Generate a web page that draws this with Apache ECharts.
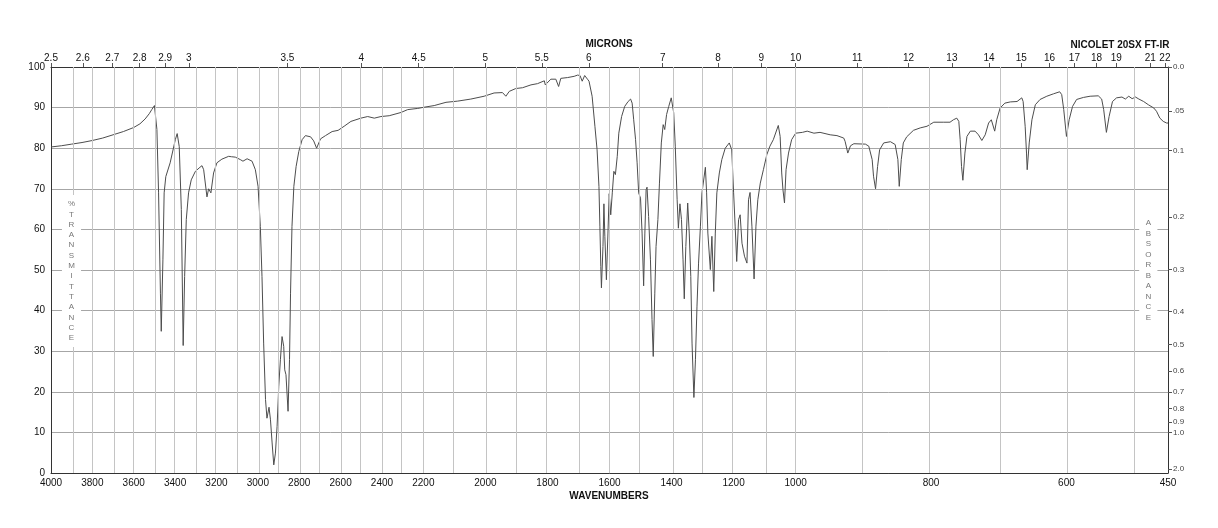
<!DOCTYPE html>
<html>
<head>
<meta charset="utf-8">
<script src="https://cdn.jsdelivr.net/npm/echarts@6/dist/echarts.min.js"></script>
<style>
html,body{margin:0;padding:0;background:#fff;}
#chart{width:1218px;height:528px;}
</style>
</head>
<body>
<div id="chart"></div>
<script>
// ---- data ----
const wavenumbers = [4000,3950,3900,3850,3800,3750,3700,3650,3600,3570,3545,3525,3513,3500,3488,3480,3471,3467,3459,3453,3445,3424,3399,3390,3380,3370,3361,3354,3346,3335,3322,3302,3280,3270,3262,3246,3238,3227,3214,3198,3174,3141,3128,3109,3085,3072,3052,3028,3012,2999,2988,2980,2972,2963,2956,2946,2939,2931,2923,2915,2907,2899,2891,2883,2875,2870,2864,2854,2847,2842,2835,2826,2815,2802,2786,2770,2745,2730,2716,2697,2673,2641,2612,2583,2550,2502,2469,2437,2405,2365,2308,2276,2227,2197,2165,2127,2089,2047,2004,1972,1945,1934,1923,1902,1880,1853,1832,1810,1807,1789,1773,1764,1757,1735,1714,1703,1695,1688,1680,1671,1666,1656,1647,1640,1634,1631,1628,1626,1621,1618,1615,1610,1605,1601,1596,1591,1586,1581,1575,1570,1561,1551,1540,1532,1527,1522,1516,1511,1506,1500,1495,1490,1486,1482,1479,1474,1468,1463,1459,1454,1450,1444,1439,1433,1427,1422,1416,1409,1401,1393,1388,1382,1378,1373,1368,1363,1359,1354,1348,1343,1338,1334,1328,1323,1318,1313,1307,1302,1291,1287,1283,1275,1270,1264,1259,1254,1246,1238,1227,1214,1206,1200,1195,1190,1184,1179,1173,1165,1157,1152,1147,1141,1134,1128,1122,1114,1104,1093,1083,1072,1056,1050,1045,1041,1036,1031,1023,1013,1000,990,983,973,964,949,939,929,927,923,919,914,897,892,887,885,882,879,876,870,860,853,849,847,844,841,836,826,816,806,796,782,772,767,762,759,757,755,753,750,747,742,735,730,725,720,715,711,709,706,703,698,691,683,673,666,664,661,659,658,655,651,646,639,629,619,610,607,604,600,596,591,585,575,565,553,548,545,541,537,532,526,518,513,508,503,498,493,486,479,471,467,462,457,452,450];
const transmittance = [80.3,80.6,81.0,81.4,81.9,82.5,83.3,84.1,85.1,86.0,87.2,88.5,89.5,90.5,84.6,69,44.3,34.9,52.5,69,73,76.4,82.1,83.6,80.4,64.9,31.4,48.4,62.4,69,72.2,74.3,75.3,75.7,74.7,68,70,69,73.9,76.4,77.3,78,77.9,77.8,77.2,76.8,77.4,76.8,74.7,70.6,60.7,48.4,32,18.1,13.5,16.2,13.1,7.4,2.0,4.9,11.5,21.3,27.9,33.6,31.2,25.4,24.2,15.2,27.9,44.3,60.7,70.6,75.5,79.2,82.1,83.1,82.8,81.8,80.0,82.3,83.1,84.1,84.4,85.4,86.6,87.4,87.8,87.4,87.8,88.0,88.8,89.5,89.8,90.1,90.5,91.3,91.6,92.1,92.8,93.6,93.7,92.8,94.0,94.7,94.9,95.6,95.9,96.6,95.6,97.0,97.0,95.2,97.2,97.4,97.7,98.0,97.9,96.5,97.9,97.0,96.5,92.8,85.4,79.6,70.6,60.8,50.9,45.6,55.8,66.3,58.3,47.6,59.1,68.8,63.6,69,74.3,73.5,78,83.7,87.8,90.3,91.5,92.1,91.1,87.0,82.1,76.4,69,67.7,59.1,46.1,59.1,69.8,70.4,63.2,52.5,37.8,28.7,44.3,55.8,62.4,71.4,81.3,85.8,84.6,88.3,90.3,92.4,88.7,80.5,67.3,60.3,66.3,62.4,52.5,42.9,55.8,66.5,59.1,48.4,32.0,18.6,27.9,41.1,51.7,60.8,69,75.3,69,59.1,50.1,58.3,44.7,59.1,69,73.9,77.2,80.0,81.3,79.6,69,60.8,52.1,62.4,63.6,56.6,53.4,51.7,67.3,69.1,60.8,47.8,60.8,67.3,71.4,74.7,78.4,80.5,82.1,85.6,82.9,73.9,69.8,66.5,74.7,78.8,82.1,83.7,83.9,84.2,83.7,83.9,83.3,83.1,82.5,81.7,78.8,80.6,81.1,81.0,80.5,77.2,73.1,70.0,75.5,79.6,81.3,81.6,80.9,77.2,70.6,77.2,81.3,82.8,84.4,85.0,85.4,86.4,86.4,86.4,87.0,87.4,86.6,82.1,75.5,72.1,78.8,82.9,84.2,84.2,83.3,81.9,83.3,86.2,87.0,86.6,84.2,87.0,89.9,91.1,91.4,91.5,92.4,91.5,85.4,78.8,74.7,81.3,87.0,90.7,92.0,92.8,93.4,93.9,93.2,89.5,82.9,87.0,90.3,92.0,92.5,92.8,92.9,92.1,89.5,83.9,87.8,91.5,92.4,92.6,92.1,92.8,92.2,92.6,92.1,91.5,90.7,89.9,89.1,87.4,86.6,86.2,86.2];

// tick labels
const wnLabels = [4000,3800,3600,3400,3200,3000,2800,2600,2400,2200,2000,1800,1600,1400,1200,1000,800,600,450];
const wnGrid = [3900,3800,3700,3600,3500,3400,3300,3200,3100,3000,2900,2800,2700,2600,2500,2400,2300,2200,2100,2000,1900,1800,1700,1600,1500,1400,1300,1200,1100,1000,900,800,700,600,500];
const micronLabels = ['2.5','2.6','2.7','2.8','2.9','3','3.5','4','4.5','5','5.5','6','7','8','9','10','11','12','13','14','15','16','17','18','19','21','22'];
const absLabels = ['0.0','.05','0.1','0.2','0.3','0.4','0.5','0.6','0.7','0.8','0.9','1.0','2.0'];
const transLetters = ['%','T','R','A','N','S','M','I','T','T','A','N','C','E'];
const absLetters = ['A','B','S','O','R','B','A','N','C','E'];

// ---- piecewise wavenumber scale (4000-2200, 2200-1000, 1000-450 each one third) ----
function toU(w){
  if (w >= 2200) return (4000 - w) / 1800;
  if (w >= 1000) return 1 + (2200 - w) / 1200;
  return 2 + (1000 - w) / 550;
}
function nearest(v, vals, labels){
  let bi = 0, bd = Infinity;
  for (let i = 0; i < vals.length; i++){ const d = Math.abs(vals[i] - v); if (d < bd){ bd = d; bi = i; } }
  return labels[bi];
}
const wnLabelU = wnLabels.map(toU);
const micronU = micronLabels.map(m => toU(10000 / parseFloat(m)));
const absT = absLabels.map(a => 100 * Math.pow(10, -parseFloat(a)));

const FONT = "'Liberation Sans', Arial, Helvetica, sans-serif";
const seriesData = wavenumbers.map((w, i) => [toU(w), transmittance[i]]);

const chart = echarts.init(document.getElementById('chart'), null, {renderer: 'canvas'});
chart.setOption({
  animation: false,
  backgroundColor: '#ffffff',
  textStyle: {fontFamily: FONT},
  grid: {left: 51, right: 50, top: 67, bottom: 55, containLabel: false},
  xAxis: [
    {
      type: 'value', min: 0, max: 3, position: 'bottom',
      axisLine: {show: true, onZero: false, lineStyle: {color: '#333', width: 1}},
      axisTick: {show: false},
      splitLine: {show: false},
      axisLabel: {
        customValues: wnLabelU, margin: 5, fontSize: 10, color: '#111', fontFamily: FONT,
        formatter: v => String(nearest(v, wnLabelU, wnLabels))
      }
    },
    {
      type: 'value', min: 0, max: 3, position: 'top',
      axisLine: {show: true, onZero: false, lineStyle: {color: '#333', width: 1}},
      axisTick: {show: true, customValues: micronU, length: 4, lineStyle: {color: '#555'}},
      splitLine: {show: false},
      axisLabel: {
        customValues: micronU, margin: 4, fontSize: 10, color: '#111', fontFamily: FONT,
        formatter: v => nearest(v, micronU, micronLabels)
      }
    }
  ],
  yAxis: [
    {
      type: 'value', min: 0, max: 100, interval: 10, position: 'left',
      axisLine: {show: true, onZero: false, lineStyle: {color: '#333', width: 1}},
      axisTick: {show: false},
      splitLine: {show: true, lineStyle: {color: '#a6a6a6', width: 1}},
      axisLabel: {margin: 6, fontSize: 10, color: '#111', fontFamily: FONT}
    },
    {
      type: 'value', min: 0, max: 100, position: 'right',
      axisLine: {show: true, onZero: false, lineStyle: {color: '#333', width: 1}},
      axisTick: {show: true, customValues: absT, length: 4, lineStyle: {color: '#555'}},
      splitLine: {show: false},
      axisLabel: {
        customValues: absT, margin: 5, fontSize: 8, color: '#444', fontFamily: FONT,
        formatter: v => nearest(v, absT, absLabels)
      }
    }
  ],
  series: [
    {
      type: 'line', xAxisIndex: 0, yAxisIndex: 0, z: 1,
      data: [[0, 100]], showSymbol: false, silent: true,
      lineStyle: {opacity: 0},
      markLine: {
        silent: true, symbol: ['none', 'none'], animation: false,
        label: {show: false},
        lineStyle: {color: '#c4c4c4', width: 1, type: 'solid'},
        emphasis: {disabled: true},
        data: wnGrid.map(w => ({xAxis: toU(w)}))
      }
    },
    {
      type: 'line', xAxisIndex: 0, yAxisIndex: 0, z: 3,
      data: seriesData, showSymbol: false, silent: true, smooth: false,
      lineStyle: {color: '#4d4d4d', width: 1}
    }
  ],
  graphic: [
    {type: 'text', z: 100, x: 609, y: 44.5,
     style: {text: 'MICRONS', font: 'bold 10px ' + FONT, fill: '#111', textAlign: 'center', textVerticalAlign: 'middle', align: 'center', verticalAlign: 'middle'}},
    {type: 'text', z: 100, x: 1120, y: 45,
     style: {text: 'NICOLET 20SX FT-IR', font: 'bold 10px ' + FONT, fill: '#111', textAlign: 'center', textVerticalAlign: 'middle', align: 'center', verticalAlign: 'middle'}},
    {type: 'text', z: 100, x: 609, y: 496.5,
     style: {text: 'WAVENUMBERS', font: 'bold 10px ' + FONT, fill: '#111', textAlign: 'center', textVerticalAlign: 'middle', align: 'center', verticalAlign: 'middle'}},
    {type: 'text', z: 100, x: 71.5, y: 271,
     style: {text: transLetters.join('\n'), font: '8px ' + FONT, fill: '#777', lineHeight: 10.3,
             textAlign: 'center', textVerticalAlign: 'middle', align: 'center', verticalAlign: 'middle',
             backgroundColor: '#fff', padding: [4, 6]}},
    {type: 'text', z: 100, x: 1148.3, y: 270.5,
     style: {text: absLetters.join('\n'), font: '8px ' + FONT, fill: '#777', lineHeight: 10.5,
             textAlign: 'center', textVerticalAlign: 'middle', align: 'center', verticalAlign: 'middle',
             backgroundColor: '#fff', padding: [4, 6]}}
  ]
});
</script>
</body>
</html>
